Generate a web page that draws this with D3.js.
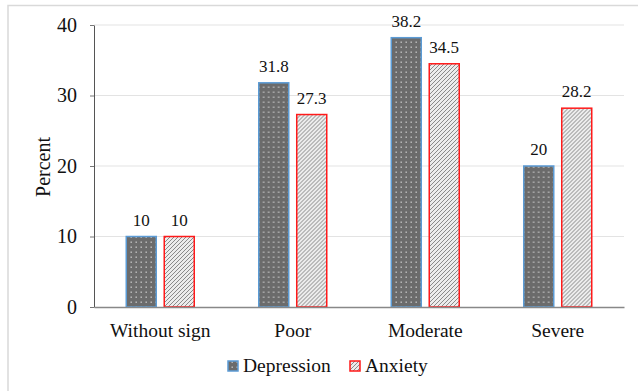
<!DOCTYPE html>
<html>
<head>
<meta charset="utf-8">
<script src="https://cdn.jsdelivr.net/npm/d3@7"></script>
<style>
  body { margin: 0; background: #fff; }
  svg text { font-family: "Liberation Serif", "Times New Roman", serif; fill: #111; }
</style>
</head>
<body>
<svg id="chart" width="638" height="391"></svg>
<script>
// chart data
const categories = ['Without sign', 'Poor', 'Moderate', 'Severe'];
const seriesNames = ['Depression', 'Anxiety'];
const depression = [10, 31.8, 38.2, 20];
const anxiety = [10, 27.3, 34.5, 28.2];
const yTicks = [0, 10, 20, 30, 40];

const rows = categories.map((c, i) => ({cat: c, Depression: depression[i], Anxiety: anxiety[i]}));

const serif = '"Liberation Serif", "Times New Roman", serif';
const margin = {top: 25, right: 14, bottom: 84, left: 94};
const width = 638 - margin.left - margin.right;
const height = 391 - margin.top - margin.bottom;

const svgRoot = d3.select('#chart').attr('font-family', serif);

// patterns for the bars
const defs = svgRoot.append('defs');
const dots = defs.append('pattern')
    .attr('id', 'dots').attr('patternUnits', 'userSpaceOnUse')
    .attr('width', 5).attr('height', 5);
dots.append('rect').attr('width', 5).attr('height', 5).attr('fill', '#6b6b6b');
dots.append('rect').attr('x', 1.5).attr('y', 1.5).attr('width', 1.4).attr('height', 1.4).attr('fill', '#c4c4c4');

const hatch = defs.append('pattern')
    .attr('id', 'hatch').attr('patternUnits', 'userSpaceOnUse')
    .attr('width', 4).attr('height', 4);
hatch.append('rect').attr('width', 4).attr('height', 4).attr('fill', '#ececec');
hatch.append('path').attr('d', 'M-1,1 l2,-2 M0,4 l4,-4 M3,5 l2,-2')
    .attr('stroke', '#8a8a8a').attr('stroke-width', 1);

// outer frame (only top and left visible in the picture)
svgRoot.append('path')
    .attr('d', 'M8,400 V5.5 H650')
    .attr('fill', 'none').attr('stroke', '#d9d9d9').attr('stroke-width', 1.5);

const svg = svgRoot.append('g')
    .attr('transform', `translate(${margin.left}, ${margin.top})`);

const x0 = d3.scaleBand().domain(categories).range([0, width]).paddingInner(0).paddingOuter(0);
const x1 = d3.scaleBand().domain(seriesNames).range([x0.bandwidth() / 2 - 34, x0.bandwidth() / 2 + 34]).paddingInner(0.21);
const y = d3.scaleLinear().domain([0, 40]).range([height, 0]);

// gridlines
svg.append('g')
    .selectAll('line')
    .data(yTicks.slice(1))
    .enter().append('line')
    .attr('x1', 0).attr('x2', width)
    .attr('y1', d => y(d)).attr('y2', d => y(d))
    .attr('stroke', '#e3e3e3').attr('stroke-width', 1);

// y axis
const yAxis = svg.append('g')
    .call(d3.axisLeft(y).tickValues(yTicks).tickSize(4).tickPadding(13).tickSizeOuter(0))
    .attr('font-family', serif).attr('font-size', 20);
yAxis.select('.domain').attr('stroke', '#555');
yAxis.selectAll('.tick line').attr('stroke', '#777');

// bars
const colors = {Depression: 'url(#dots)', Anxiety: 'url(#hatch)'};
const strokes = {Depression: '#5b9bd5', Anxiety: '#ff1a1a'};

const groups = svg.selectAll('.grp')
    .data(rows)
    .enter().append('g')
    .attr('class', 'grp')
    .attr('transform', d => `translate(${x0(d.cat)},0)`);

groups.selectAll('rect')
    .data(d => seriesNames.map(k => ({key: k, value: d[k]})))
    .enter().append('rect')
    .attr('x', d => x1(d.key))
    .attr('width', x1.bandwidth())
    .attr('y', d => y(d.value))
    .attr('height', d => height - y(d.value))
    .attr('fill', d => colors[d.key])
    .attr('stroke', d => strokes[d.key])
    .attr('stroke-width', 1.5);

groups.selectAll('.val')
    .data(d => seriesNames.map(k => ({key: k, value: d[k]})))
    .enter().append('text')
    .attr('class', 'val')
    .attr('x', d => x1(d.key) + x1.bandwidth() / 2)
    .attr('y', d => y(d.value) - 11)
    .attr('text-anchor', 'middle')
    .attr('font-size', 17)
    .text(d => d.value);

// x axis
const xAxis = svg.append('g')
    .attr('transform', `translate(0, ${height})`)
    .call(d3.axisBottom(x0).tickSize(0).tickPadding(16))
    .attr('font-family', serif).attr('font-size', 19.5);
xAxis.select('.domain').attr('stroke', '#888').attr('stroke-width', 1.5);

// y label
svgRoot.append('text')
    .attr('transform', 'translate(50, 167) rotate(-90)')
    .attr('text-anchor', 'middle')
    .attr('font-size', 20)
    .text('Percent');

// legend
const legend = svgRoot.append('g');
const legendX = [228, 350];
seriesNames.forEach((k, i) => {
    legend.append('rect')
        .attr('x', legendX[i]).attr('y', 361)
        .attr('width', 10).attr('height', 10)
        .attr('fill', colors[k]).attr('stroke', strokes[k]).attr('stroke-width', 1.5);
    legend.append('text')
        .attr('x', legendX[i] + 15).attr('y', 372)
        .attr('font-size', 19.5)
        .text(k);
});
</script>
</body>
</html>
